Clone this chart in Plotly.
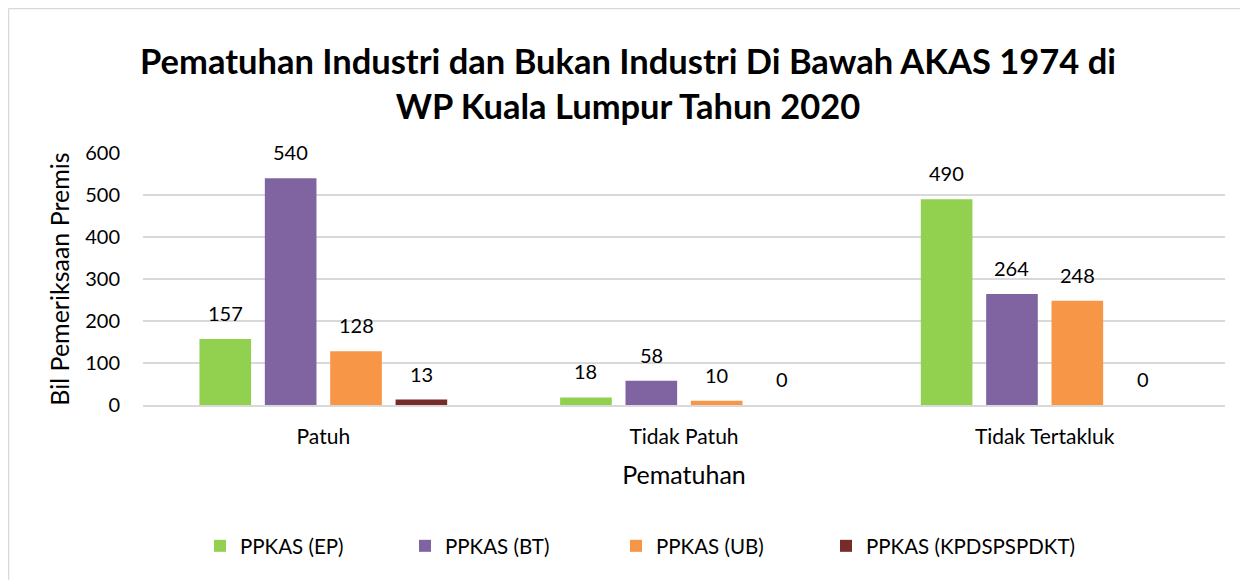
import plotly.graph_objects as go

categories = ["Patuh", "Tidak Patuh", "Tidak Tertakluk"]
series_names = ["PPKAS (EP)", "PPKAS (BT)", "PPKAS (UB)", "PPKAS (KPDSPSPDKT)"]
ep = [157, 18, 490]
bt = [540, 58, 264]
ub = [128, 10, 248]
kp = [13, 0, 0]
colors = ["#92D050", "#8064A2", "#F79646", "#772C2A"]

FONT = "Lato"
# page body has an 8px margin, so the figure is sized to fit the window
W, H = 1240, 572
l, r, t, b = 135, 23, 145, 175
pw, ph = W - l - r, H - t - b
BARGAP = 0.275
BARGROUPGAP = 0.21
LEGEND_TEXT_X = [232, 437, 648, 858]  # where each legend entry's text starts (figure px)


def px(x):
    return (x - l) / pw


def py(y):
    return (H - b - y) / ph


fig = go.Figure()
slot = (pw / len(categories)) * (1 - BARGAP) / len(series_names)
annotations = []
legend_ids = ["legend", "legend2", "legend3", "legend4"]
for i, (name, vals, col) in enumerate(zip(series_names, [ep, bt, ub, kp], colors)):
    fig.add_trace(go.Bar(
        x=categories, y=vals, name=name,
        marker=dict(color=col, line=dict(width=0)),
        legend=legend_ids[i], showlegend=True,
    ))
    shift = (i - (len(series_names) - 1) / 2) * slot
    for c, v in zip(categories, vals):
        annotations.append(dict(
            x=c, y=v, xref="x", yref="y", text=str(v), showarrow=False,
            xshift=shift, yshift=26, yanchor="middle", xanchor="center",
            font=dict(family=FONT, size=20, color="#000000"),
        ))

legend_layout = {}
for lid, tx in zip(legend_ids, LEGEND_TEXT_X):
    legend_layout[lid] = dict(
        orientation="h", x=px(tx - 40), xanchor="left",
        y=py(538), yanchor="middle", bgcolor="rgba(0,0,0,0)",
        font=dict(family=FONT, size=20.5, color="#000000"), itemwidth=30,
    )

fig.update_layout(
    width=W, height=H,
    showlegend=True,
    margin=dict(l=l, r=r, t=t, b=b, autoexpand=False),
    paper_bgcolor="white", plot_bgcolor="white",
    font=dict(family=FONT, color="#000000"),
    title=dict(
        text="<b>Pematuhan Industri dan Bukan Industri Di Bawah AKAS 1974 di<br>WP Kuala Lumpur Tahun 2020</b>",
        x=px(W / 2), xanchor="center", xref="paper", y=1 - 66 / H, yanchor="middle",
        font=dict(family=FONT, size=34.5, color="#000000"),
    ),
    barmode="group", bargap=BARGAP, bargroupgap=BARGROUPGAP,
    xaxis=dict(
        title=dict(text="Pematuhan", font=dict(family=FONT, size=25), standoff=20),
        tickfont=dict(family=FONT, size=21), showline=True, linecolor="#d9d9d9",
        linewidth=1.5, ticks="", showgrid=False, ticklabelstandoff=12, tickangle=0,
        automargin=False,
    ),
    yaxis=dict(
        title=dict(text="Bil Pemeriksaan Premis", font=dict(family=FONT, size=25), standoff=8),
        range=[0, 600], dtick=100, tickfont=dict(family=FONT, size=20),
        showgrid=True, gridcolor="#d9d9d9", gridwidth=1.5, zeroline=False, ticks="",
        ticklabelstandoff=22, automargin=False,
    ),
    annotations=annotations,
    shapes=[
        dict(type="line", xref="paper", yref="paper", x0=px(0.5), x1=px(0.5), y0=py(0.5), y1=py(600),
             line=dict(color="#d9d9d9", width=1.5)),
        dict(type="line", xref="paper", yref="paper", x0=px(0.5), x1=px(1300), y0=py(0.5), y1=py(0.5),
             line=dict(color="#d9d9d9", width=1.5)),
    ],
    **legend_layout,
)

fig.write_html("out.html")
